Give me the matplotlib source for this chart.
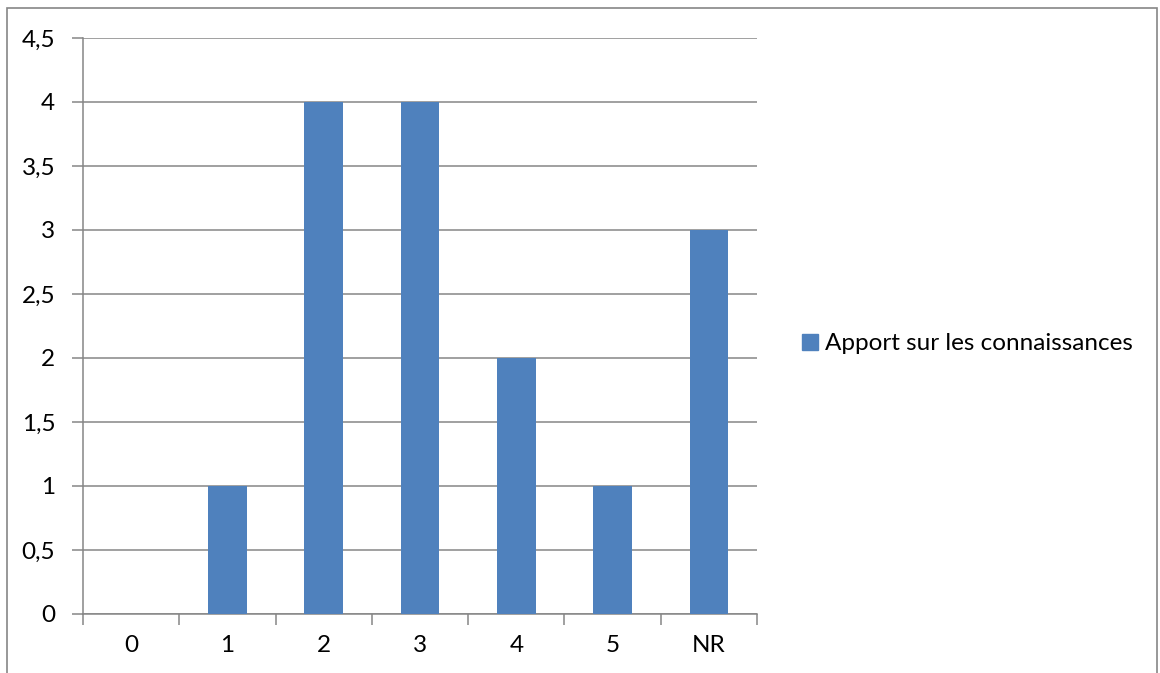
import matplotlib
matplotlib.use("Agg")
import matplotlib.pyplot as plt
from matplotlib.patches import Rectangle
from matplotlib.ticker import FuncFormatter, FixedLocator
import numpy as np

categories = ["0", "1", "2", "3", "4", "5", "NR"]
values = [0, 1, 4, 4, 2, 1, 3]
series_name = "Apport sur les connaissances"
y_ticks = [0, 0.5, 1, 1.5, 2, 2.5, 3, 3.5, 4, 4.5]

plt.rcParams['font.family'] = ['Lato', 'DejaVu Sans']

W, H = 1160, 673
fig = plt.figure(figsize=(W/100, H/100), dpi=100)
grey = "#868686"
bar_color = "#4F81BD"
fs = 17.5

# outer chart border
fig.patches.append(Rectangle((7/W, -0.01), (1157-7)/W, 1 - 8/H + 0.01, transform=fig.transFigure,
                             fill=False, edgecolor=grey, linewidth=1.2))

ax = fig.add_axes([83/W, 1 - 614/H, (757-83)/W, (614-38)/H])
x = np.arange(len(categories))
ax.bar(x, values, width=0.4, color=bar_color, zorder=3, label=series_name)
ax.set_xlim(-0.5, len(categories) - 0.5)
ax.set_ylim(0, 4.5)
ax.yaxis.set_major_locator(FixedLocator(y_ticks))
ax.yaxis.set_major_formatter(FuncFormatter(lambda v, p: (f"{v:g}").replace(".", ",")))
ax.grid(axis='y', color=grey, linewidth=1.1, zorder=0)
ax.set_xticks(x)
ax.set_xticklabels(categories)
ax.tick_params(axis='x', length=0, pad=15, labelsize=fs)
ax.set_xticks(np.arange(len(categories) + 1) - 0.5, minor=True)
ax.tick_params(axis='x', which='minor', length=8, width=1.1, color=grey)
ax.tick_params(axis='y', length=8, width=1.1, color=grey, labelsize=fs, pad=12)
for s in ['top', 'right']:
    ax.spines[s].set_visible(False)
for s in ['left', 'bottom']:
    ax.spines[s].set_color(grey)
    ax.spines[s].set_linewidth(1.1)

fig.legend(handles=[Rectangle((0, 0), 1, 1, color=bar_color)], labels=[series_name],
           loc='center left', bbox_to_anchor=(780/W, 1 - 344/H), frameon=False,
           fontsize=fs, handlelength=0.65, handleheight=0.65, handletextpad=0.3)

fig.savefig("out.png", dpi=100)
